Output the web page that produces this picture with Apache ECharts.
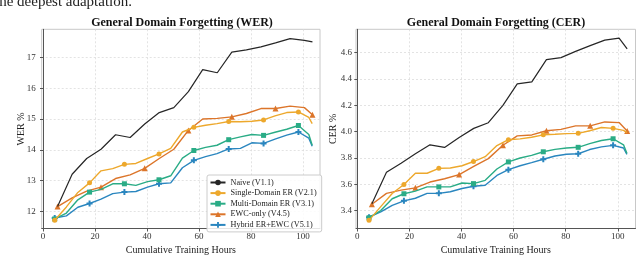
<!DOCTYPE html>
<html><head><meta charset="utf-8">
<script src="https://cdn.jsdelivr.net/npm/echarts@6/dist/echarts.min.js"></script>
<style>html,body{margin:0;padding:0;background:#fff;overflow:hidden}#c{width:640px;height:260px}</style>
</head><body><div id="c"></div>
<script>
// ---- data ----
const seriesNames = ['Naive (V1.1)', 'Single-Domain ER (V2.1)', 'Multi-Domain ER (V3.1)', 'EWC-only (V4.5)', 'Hybrid ER+EWC (V5.1)'];
const hoursA = [5.6, 11.2, 16.8, 22.3, 27.9, 33.5, 39.1, 44.7, 50.3, 55.9, 61.4, 67.0, 72.6, 78.2, 83.8, 89.4, 95.0, 100.5, 103.6];
const hoursB = [4.5, 9.0, 13.4, 17.9, 22.3, 26.8, 31.3, 35.7, 40.2, 44.6, 49.1, 53.6, 58.0, 62.5, 66.9, 71.4, 75.9, 80.3, 84.8, 89.2, 93.7, 98.2, 102.2, 103.5];

const naiveWer  = [12.16, 13.21, 13.72, 14.02, 14.49, 14.40, 14.84, 15.21, 15.37, 15.89, 16.60, 16.50, 17.17, 17.24, 17.34, 17.47, 17.61, 17.55, 17.50];
const ewcWer    = [12.16, 12.44, 12.66, 12.79, 13.07, 13.19, 13.40, 13.72, 14.02, 14.63, 15.00, 15.02, 15.07, 15.18, 15.34, 15.34, 15.42, 15.37, 15.14];
const singleWer = [11.72, 12.15, 12.62, 12.93, 13.32, 13.39, 13.53, 13.56, 13.72, 13.87, 14.05, 14.58, 14.73, 14.80, 14.85, 14.92, 14.91, 14.93, 14.97, 15.10, 15.21, 15.23, 15.05, 14.85];
const multiWer  = [11.76, 11.95, 12.38, 12.63, 12.72, 12.90, 12.90, 12.85, 12.97, 13.03, 13.16, 13.73, 13.98, 14.08, 14.15, 14.33, 14.42, 14.50, 14.47, 14.57, 14.67, 14.79, 14.50, 14.15];
const hybridWer = [11.79, 11.86, 12.14, 12.26, 12.40, 12.58, 12.63, 12.65, 12.79, 12.90, 12.93, 13.42, 13.66, 13.78, 13.88, 14.03, 14.05, 14.23, 14.21, 14.35, 14.48, 14.58, 14.38, 14.12];

const naiveCer  = [3.452, 3.691, 3.760, 3.832, 3.900, 3.880, 3.956, 4.025, 4.068, 4.200, 4.363, 4.378, 4.548, 4.563, 4.610, 4.654, 4.696, 4.711, 4.630];
const ewcCer    = [3.448, 3.531, 3.556, 3.573, 3.617, 3.642, 3.674, 3.736, 3.795, 3.897, 3.968, 3.975, 4.007, 4.017, 4.044, 4.044, 4.074, 4.069, 4.005];
const singleCer = [3.326, 3.430, 3.530, 3.598, 3.684, 3.684, 3.721, 3.724, 3.741, 3.773, 3.810, 3.894, 3.939, 3.945, 3.958, 3.976, 3.980, 3.985, 3.987, 4.007, 4.032, 4.025, 4.010, 3.993];
const multiCer  = [3.346, 3.400, 3.490, 3.528, 3.548, 3.580, 3.580, 3.580, 3.610, 3.605, 3.630, 3.716, 3.770, 3.800, 3.820, 3.847, 3.865, 3.876, 3.881, 3.909, 3.933, 3.946, 3.900, 3.835];
const hybridCer = [3.350, 3.390, 3.440, 3.474, 3.494, 3.531, 3.531, 3.543, 3.568, 3.585, 3.593, 3.667, 3.711, 3.741, 3.765, 3.790, 3.815, 3.828, 3.832, 3.864, 3.884, 3.896, 3.876, 3.827];

const werTicks = [12, 13, 14, 15, 16, 17];
const cerTicks = [3.4, 3.6, 3.8, 4.0, 4.2, 4.4, 4.6];
const hourTicks = [0, 20, 40, 60, 80, 100];
const MARK_EVERY = 3;

// ---- styles ----
const FONT = 'Liberation Serif';
const colors = ['#262626', '#EDA82C', '#2AAC86', '#DC752A', '#2A86BF'];
const plusPath = 'path://M1,0H2V1H3V2H2V3H1V2H0V1H1Z';
const symbols = ['none', 'circle', 'rect', 'triangle', plusPath];
const symSizes = [0, 5, 5, 6, 6];

function makeSeries(name, idx, xs, ys, axis) {
  return {
    name: name, type: 'line', xAxisIndex: axis, yAxisIndex: axis,
    symbol: symbols[idx], symbolSize: symSizes[idx], showAllSymbol: true,
    color: colors[idx],
    lineStyle: { width: idx === 0 ? 1.2 : 1.4, color: colors[idx] },
    itemStyle: { color: colors[idx] },
    emphasis: { disabled: true }, animation: false, z: 10 - idx,
    data: xs.map((x, i) => (idx === 0 || i % MARK_EVERY !== 0) ? { value: [x, ys[i]], symbol: 'none' } : { value: [x, ys[i]] })
  };
}

const gridLine = { show: true, lineStyle: { color: '#dcdcdc', width: 0.8, type: [2, 2] } };

function xAxisDef(grid, min, max) {
  return {
    type: 'value', gridIndex: grid, min: min, max: max,
    name: 'Cumulative Training Hours', nameLocation: 'middle', nameGap: 21.5, nameMoveOverlap: false,
    nameTextStyle: { fontFamily: FONT, fontSize: 10, color: '#222', verticalAlign: 'middle' },
    axisLine: { show: true, onZero: false, lineStyle: { color: '#555', width: 1 } },
    axisTick: { show: true, length: 3, customValues: hourTicks, lineStyle: { color: '#555' } },
    axisLabel: { fontFamily: FONT, fontSize: 9, color: '#333', margin: 4, customValues: hourTicks },
    splitLine: Object.assign({}, gridLine, { customValues: hourTicks })
  };
}
function yAxisDef(grid, min, max, ticks, name, dec, gap, margin) {
  return {
    type: 'value', gridIndex: grid, min: min, max: max,
    name: name, nameLocation: 'middle', nameGap: gap, nameRotate: 90, nameMoveOverlap: false,
    nameTextStyle: { fontFamily: FONT, fontSize: 10, color: '#222', verticalAlign: 'middle' },
    axisLine: { show: true, lineStyle: { color: '#555', width: 1 } },
    axisTick: { show: true, length: 3, customValues: ticks, lineStyle: { color: '#555' } },
    axisLabel: { fontFamily: FONT, fontSize: 9, color: '#333', margin: margin, customValues: ticks,
      formatter: v => Number(v).toFixed(dec) },
    splitLine: Object.assign({}, gridLine, { customValues: ticks })
  };
}

const chart = echarts.init(document.getElementById('c'), null, { renderer: 'canvas' });
const series = [
  makeSeries(seriesNames[0], 0, hoursA, naiveWer, 0),
  makeSeries(seriesNames[1], 1, hoursB, singleWer, 0),
  makeSeries(seriesNames[2], 2, hoursB, multiWer, 0),
  makeSeries(seriesNames[3], 3, hoursA, ewcWer, 0),
  makeSeries(seriesNames[4], 4, hoursB, hybridWer, 0),
  makeSeries(seriesNames[0], 0, hoursA, naiveCer, 1),
  makeSeries(seriesNames[1], 1, hoursB, singleCer, 1),
  makeSeries(seriesNames[2], 2, hoursB, multiCer, 1),
  makeSeries(seriesNames[3], 3, hoursA, ewcCer, 1),
  makeSeries(seriesNames[4], 4, hoursB, hybridCer, 1)
];

chart.setOption({
  backgroundColor: '#fff',
  animation: false,
  grid: [
    { left: 41.7, top: 29.3, width: 278.3, height: 204.7, show: true, borderColor: '#c8c8c8', borderWidth: 1 },
    { left: 356, top: 29.3, width: 279.5, height: 205, show: true, borderColor: '#c8c8c8', borderWidth: 1 }
  ],
  xAxis: [ xAxisDef(0, -0.5, 106.5), xAxisDef(1, -0.5, 106.8) ],
  yAxis: [
    yAxisDef(0, 11.45, 17.91, werTicks, 'WER %', 0, 20, 6),
    yAxisDef(1, 3.264, 4.778, cerTicks, 'CER %', 1, 22.5, 4)
  ],
  legend: {
    data: seriesNames, orient: 'vertical', left: 207, top: 175,
    itemWidth: 15, itemHeight: 7, itemGap: 0.6,
    padding: [2.5, 5, 2, 2.5],
    backgroundColor: 'rgba(255,255,255,0.85)', borderColor: '#cccccc', borderWidth: 1, borderRadius: 2,
    textStyle: { fontFamily: FONT, fontSize: 8.2, color: '#222', lineHeight: 10 },
    selectedMode: false
  },
  graphic: [
    { type: 'text', x: 182, y: 23.3, style: { text: 'General Domain Forgetting (WER)', fontFamily: FONT, fontWeight: 'bold', fontSize: 12, fill: '#111', align: 'center', verticalAlign: 'middle' } },
    { type: 'text', x: 496, y: 23.3, style: { text: 'General Domain Forgetting (CER)', fontFamily: FONT, fontWeight: 'bold', fontSize: 12, fill: '#111', align: 'center', verticalAlign: 'middle' } },
    { type: 'text', x: -5, y: 2, style: { text: 'the deepest adaptation.', fontFamily: 'Liberation Serif', fontSize: 15, fill: '#222', align: 'left', verticalAlign: 'middle' } }
  ],
  series: series
});
</script></body></html>
